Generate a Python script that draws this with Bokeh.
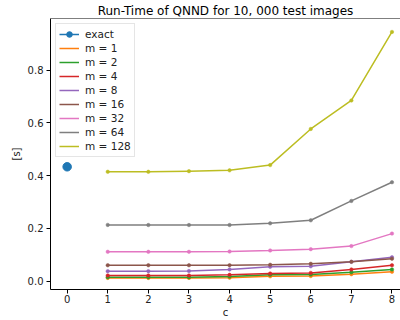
from bokeh.plotting import figure
from bokeh.models import Range1d, Span, FixedTicker, PrintfTickFormatter
from bokeh.embed import file_html
from bokeh.resources import INLINE

c_values = [1, 2, 3, 4, 5, 6, 7, 8]
exact_c = [0]
exact_time = [0.4335]
m1 = [0.012, 0.012, 0.012, 0.013, 0.018, 0.019, 0.026, 0.035]
m2 = [0.0146, 0.0146, 0.0146, 0.017, 0.0235, 0.025, 0.0336, 0.044]
m4 = [0.021, 0.021, 0.021, 0.0235, 0.0286, 0.031, 0.044, 0.060]
m8 = [0.0375, 0.0375, 0.038, 0.044, 0.054, 0.056, 0.073, 0.0905]
m16 = [0.060, 0.060, 0.060, 0.060, 0.0617, 0.0655, 0.073, 0.0845]
m32 = [0.111, 0.111, 0.111, 0.112, 0.116, 0.121, 0.1326, 0.18]
m64 = [0.213, 0.2126, 0.2126, 0.2126, 0.219, 0.2305, 0.304, 0.375]
m128 = [0.4145, 0.4145, 0.417, 0.42, 0.44, 0.577, 0.685, 0.945]

series_labels = ["m = 1", "m = 2", "m = 4", "m = 8", "m = 16", "m = 32", "m = 64", "m = 128"]
series_values = [m1, m2, m4, m8, m16, m32, m64, m128]
colors = ["#ff7f0e", "#2ca02c", "#d62728", "#9467bd", "#8c564b", "#e377c2", "#7f7f7f", "#bcbd22"]
x_ticks = [0, 1, 2, 3, 4, 5, 6, 7, 8]
y_ticks = [0.0, 0.2, 0.4, 0.6, 0.8]

FONT = "DejaVu Sans"
Y0, Y1 = -0.032, 0.996

p = figure(width=400, height=320, output_backend="svg", toolbar_location=None,
           x_range=Range1d(-0.41, 8.21), y_range=Range1d(Y0, Y1),
           title="Run-Time of QNND for 10, 000 test images",
           min_border_left=50, min_border_right=0, min_border_top=0, min_border_bottom=0)

p.title.text_font = FONT
p.title.text_font_size = "12px"
p.title.text_font_style = "normal"
p.title.align = "center"
p.title.text_color = "#000000"
p.title.standoff = 2

# exact
p.line(exact_c, exact_time, color="#1f77b4", line_width=1.5, legend_label="exact")
p.scatter(exact_c, exact_time, size=8.5, color="#1f77b4", legend_label="exact")

for lab, vals, col in zip(series_labels, series_values, colors):
    p.line(c_values, vals, color=col, line_width=1.5, legend_label=lab)
    p.scatter(c_values, vals, size=3.5, color=col, line_width=0.5)

p.grid.visible = False
p.outline_line_color = None
p.add_layout(Span(location=Y1, dimension="width", line_color="#000000", line_width=1))

for ax in (p.xaxis[0], p.yaxis[0]):
    ax.axis_line_color = "#000000"
    ax.major_tick_line_color = "#000000"
    ax.major_tick_out = 4
    ax.major_tick_in = 0
    ax.minor_tick_line_color = None
    ax.major_label_text_font = FONT
    ax.major_label_text_font_size = "10px"
    ax.major_label_text_color = "#222222"
    ax.axis_label_text_font = FONT
    ax.axis_label_text_font_size = "10px"
    ax.axis_label_text_font_style = "normal"
    ax.axis_label_text_color = "#222222"

p.xaxis.major_label_standoff = 1
p.xaxis.axis_label_standoff = 1
p.yaxis.major_label_standoff = 3
p.yaxis.axis_label_standoff = 3

p.xaxis.ticker = FixedTicker(ticks=x_ticks)
p.yaxis.ticker = FixedTicker(ticks=y_ticks)
p.xaxis.axis_label = "c"
p.yaxis.axis_label = "[s]"
p.yaxis.formatter = PrintfTickFormatter(format="%.1f")

lg = p.legend[0]
lg.location = "top_left"
lg.margin = 5
lg.padding = 3
lg.spacing = 0
lg.glyph_height = 14
lg.glyph_width = 20
lg.label_height = 14
lg.label_standoff = 6
lg.label_text_font = FONT
lg.label_text_font_size = "10.5px"
lg.label_text_color = "#222222"
lg.border_line_color = "#cccccc"
lg.background_fill_alpha = 0.8

open("out.html", "w").write(file_html(p, INLINE))
